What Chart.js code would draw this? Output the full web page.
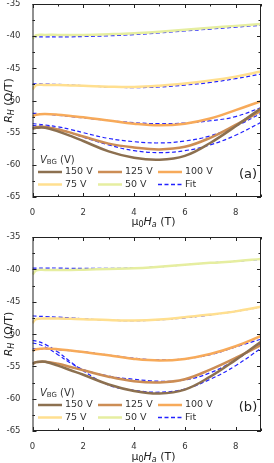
<!DOCTYPE html>
<html>
<head>
<meta charset="utf-8">
<script src="https://cdn.jsdelivr.net/npm/chart.js@4.4.1/dist/chart.umd.min.js"></script>
<style>
  html, body { margin: 0; padding: 0; background: #fff; }
  .panel { position: relative; width: 274px; }
  #boxA { height: 231px; }
  #boxB { height: 232px; }
</style>
</head>
<body>
<div class="panel" id="boxA"><canvas id="chartA"></canvas></div>
<div class="panel" id="boxB"><canvas id="chartB"></canvas></div>
<script>
// Applied field (T), shared by all curves
const fieldT = [0, 0.15, 0.5, 1, 1.5, 2, 3, 4, 5, 6, 7, 8, 9];

// Back-gate voltages and colours
const gateLabels = ["150 V", "125 V", "100 V", "75 V", "50 V"];
const gateColors = ["#8c7050", "#cc8d55", "#f7aa5a", "#ffdf8f", "#e6eea0"];

// Panel (a): measured R_H (Ohm/T)
const a150 = [-54.4, -54.25, -54.25, -54.8, -55.5, -56.3, -57.9, -58.9, -59.2, -58.6, -56.6, -54.0, -51.2];
const a125 = [-54.3, -54.15, -54.1, -54.5, -55.0, -55.6, -56.7, -57.3, -57.6, -57.2, -55.8, -53.8, -51.6];
const a100 = [-52.5, -52.2, -52.1, -52.2, -52.4, -52.6, -53.1, -53.6, -53.85, -53.6, -52.8, -51.5, -50.1];
const a75 = [-48.3, -47.6, -47.6, -47.6, -47.65, -47.7, -47.85, -47.9, -47.7, -47.35, -46.9, -46.3, -45.5];
const a50 = [-40.4, -39.85, -39.8, -39.8, -39.8, -39.8, -39.7, -39.55, -39.3, -39.0, -38.7, -38.4, -38.1];

// Panel (a): fits
const fitA150 = [-53.9, -53.95, -54.0, -54.4, -55.0, -55.7, -56.9, -57.8, -58.1, -57.8, -56.9, -55.4, -53.4];
const fitA125 = [-53.6, -53.65, -53.8, -54.1, -54.5, -55.0, -55.9, -56.4, -56.6, -56.3, -55.5, -54.0, -52.0];
const fitA100 = [-52.0, -52.0, -52.1, -52.3, -52.5, -52.7, -53.1, -53.45, -53.6, -53.5, -53.15, -52.5, -51.1];
const fitA75 = [-47.4, -47.4, -47.45, -47.5, -47.6, -47.7, -47.9, -48.0, -47.9, -47.6, -47.2, -46.6, -45.9];
const fitA50 = [-40.1, -40.1, -40.1, -40.1, -40.1, -40.05, -39.95, -39.75, -39.5, -39.2, -38.9, -38.6, -38.3];

// Panel (b): measured R_H (Ohm/T)
const b150 = [-54.6, -54.35, -54.3, -54.9, -55.6, -56.3, -57.8, -58.8, -59.2, -58.6, -56.6, -54.0, -51.2];
const b125 = [-54.6, -54.35, -54.3, -54.6, -55.1, -55.6, -56.6, -57.3, -57.5, -57.0, -55.5, -53.7, -51.7];
const b100 = [-52.6, -52.35, -52.25, -52.35, -52.55, -52.8, -53.3, -53.85, -54.1, -53.85, -53.1, -51.9, -50.3];
const b75 = [-48.3, -47.7, -47.6, -47.6, -47.65, -47.7, -47.85, -47.9, -47.75, -47.4, -47.0, -46.5, -45.8];
const b50 = [-40.8, -40.15, -40.1, -40.1, -40.1, -40.05, -39.95, -39.85, -39.6, -39.3, -39.0, -38.75, -38.4];

// Panel (b): fits
const fitB150 = [-51.0, -51.1, -51.6, -52.8, -54.3, -55.7, -57.9, -58.7, -59.0, -58.5, -57.0, -54.9, -52.2];
const fitB125 = [-51.4, -51.5, -52.0, -53.2, -54.5, -55.5, -56.5, -57.0, -57.3, -57.1, -56.0, -54.0, -51.5];
const fitB100 = [-52.3, -52.3, -52.3, -52.4, -52.6, -52.75, -53.25, -53.75, -54.0, -53.85, -53.2, -52.0, -50.8];
const fitB75 = [-47.2, -47.25, -47.3, -47.4, -47.5, -47.65, -47.85, -47.95, -47.8, -47.5, -47.05, -46.5, -45.85];
const fitB50 = [-39.8, -39.8, -39.8, -39.8, -39.85, -39.85, -39.85, -39.8, -39.6, -39.3, -39.0, -38.75, -38.45];

// Axis ticks
const xTicks = [0, 2, 4, 6, 8];
const yTicks = [-65, -60, -55, -50, -45, -40, -35];

const FONT = "'DejaVu Sans', sans-serif";
const FIT_COLOR = "#2222ff";

const toPoints = (ys) => ys.map((y, i) => ({ x: fieldT[i], y: y }));

// Draw a row of text pieces (normal / italic / subscript) starting at x
function drawPieces(ctx, pieces, x, y) {
  pieces.forEach((p) => {
    ctx.font = (p.italic ? "italic " : "") + p.size + "px " + FONT;
    ctx.fillText(p.text, x, y + (p.sub ? 2.5 : 0));
    x += ctx.measureText(p.text).width;
  });
}
function piecesWidth(ctx, pieces) {
  let w = 0;
  pieces.forEach((p) => {
    ctx.font = (p.italic ? "italic " : "") + p.size + "px " + FONT;
    w += ctx.measureText(p.text).width;
  });
  return w;
}

// Frame, inward ticks, axis titles, legend and panel letter
const decorations = {
  id: "decorations",
  afterDatasetsDraw(chart, args, opts) {
    const ctx = chart.ctx;
    const area = chart.chartArea;
    const xs = chart.scales.x;
    const ys = chart.scales.y;
    ctx.save();
    ctx.strokeStyle = "#222";
    ctx.lineWidth = 1;
    ctx.strokeRect(area.left + 0.5, area.top + 0.5, area.right - area.left - 1, area.bottom - area.top - 1);

    ctx.beginPath();
    for (let v = 0; v <= 9; v += 1) {
      const px = Math.round(xs.getPixelForValue(v)) + 0.5;
      const len = v % 2 === 0 ? 4 : 2.5;
      ctx.moveTo(px, area.bottom);
      ctx.lineTo(px, area.bottom - len);
      ctx.moveTo(px, area.top);
      ctx.lineTo(px, area.top + len);
    }
    for (let v = -65; v <= -35; v += 2.5) {
      const py = Math.round(ys.getPixelForValue(v)) + 0.5;
      const len = v % 5 === 0 ? 4 : 2.5;
      ctx.moveTo(area.left, py);
      ctx.lineTo(area.left + len, py);
      ctx.moveTo(area.right, py);
      ctx.lineTo(area.right - len, py);
    }
    ctx.stroke();

    ctx.fillStyle = "#222";
    ctx.textBaseline = "middle";

    // x title
    const xTitle = [
      { text: "\u03bc", size: 11 },
      { text: "0", size: 8, sub: true },
      { text: "H", size: 11, italic: true },
      { text: "a", size: 8, italic: true, sub: true },
      { text: " (T)", size: 11 },
    ];
    const xw = piecesWidth(ctx, xTitle);
    drawPieces(ctx, xTitle, 153.5 - xw / 2, opts.xTitleY);

    // y title (rotated)
    const yTitle = [
      { text: "R", size: 11, italic: true },
      { text: "H", size: 8, italic: true, sub: true },
      { text: " (\u03a9/T)", size: 11 },
    ];
    const yw = piecesWidth(ctx, yTitle);
    ctx.save();
    ctx.translate(9, (area.top + area.bottom) / 2);
    ctx.rotate(-Math.PI / 2);
    drawPieces(ctx, yTitle, -yw / 2, 0);
    ctx.restore();

    // legend
    ctx.fillStyle = "#333";
    drawPieces(ctx, [
      { text: "V", size: 10, italic: true },
      { text: "BG", size: 7, sub: true },
      { text: " (V)", size: 10 },
    ], 40, opts.legendY);

    const entries = gateLabels.map((l, i) => ({ label: l, color: gateColors[i], fit: false }));
    entries.push({ label: "Fit", color: FIT_COLOR, fit: true });
    entries.forEach((e, i) => {
      const col = i % 3;
      const row = Math.floor(i / 3);
      const x0 = 38 + col * 60;
      const y0 = opts.legendY + 12 + row * 12.5;
      ctx.beginPath();
      ctx.strokeStyle = e.color;
      ctx.lineWidth = e.fit ? 1.3 : 2.5;
      ctx.setLineDash(e.fit ? [4, 2.5] : []);
      ctx.moveTo(x0, y0);
      ctx.lineTo(x0 + 24, y0);
      ctx.stroke();
      ctx.setLineDash([]);
      ctx.font = "9.5px " + FONT;
      ctx.fillStyle = "#333";
      ctx.fillText(e.label, x0 + 27, y0);
    });

    // panel letter
    ctx.font = "13px " + FONT;
    ctx.textAlign = "center";
    ctx.fillStyle = "#222";
    ctx.fillText(opts.letter, 248, opts.letterY);
    ctx.restore();
  },
};

function makePanel(canvasId, measured, fits, cfg) {
  const datasets = [];
  measured.forEach((ys, i) => {
    datasets.push({
      label: gateLabels[i],
      data: toPoints(ys),
      borderColor: gateColors[i],
      borderWidth: 2.5,
      pointRadius: 0,
      tension: 0.4,
    });
  });
  fits.forEach((ys, i) => {
    datasets.push({
      label: "Fit " + gateLabels[i],
      data: toPoints(ys),
      borderColor: FIT_COLOR,
      borderWidth: 1.2,
      borderDash: [4, 2.5],
      pointRadius: 0,
      tension: 0.4,
    });
  });

  return new Chart(document.getElementById(canvasId), {
    type: "line",
    data: { datasets: datasets },
    plugins: [decorations],
    options: {
      responsive: true,
      maintainAspectRatio: false,
      animation: false,
      layout: { padding: { left: 0, right: 13, top: cfg.top, bottom: 0 } },
      plugins: {
        legend: { display: false },
        tooltip: { enabled: false },
        decorations: cfg,
      },
      scales: {
        x: {
          type: "linear",
          min: 0,
          max: 9,
          grid: { display: false },
          border: { display: false },
          afterBuildTicks: (s) => { s.ticks = xTicks.map((v) => ({ value: v })); },
          afterFit: (s) => { s.height = cfg.xHeight; s.paddingLeft = 0; s.paddingRight = 0; },
          ticks: { padding: 3, color: "#333", font: { family: FONT, size: 8.5 }, maxRotation: 0 },
        },
        y: {
          min: -65,
          max: -35,
          grid: { display: false },
          border: { display: false },
          afterBuildTicks: (s) => { s.ticks = yTicks.map((v) => ({ value: v })); },
          afterFit: (s) => { s.width = 32.5; s.paddingTop = 0; s.paddingBottom = 0; },
          ticks: { padding: 4, color: "#333", font: { family: FONT, size: 8.5 } },
        },
      },
    },
  });
}

makePanel("chartA",
  [a150, a125, a100, a75, a50],
  [fitA150, fitA125, fitA100, fitA75, fitA50],
  { top: 4, xHeight: 34, xTitleY: 222, legendY: 160, letter: "(a)", letterY: 175 });

makePanel("chartB",
  [b150, b125, b100, b75, b50],
  [fitB150, fitB125, fitB100, fitB75, fitB50],
  { top: 6, xHeight: 32, xTitleY: 226, legendY: 162, letter: "(b)", letterY: 177 });
</script>
</body>
</html>
